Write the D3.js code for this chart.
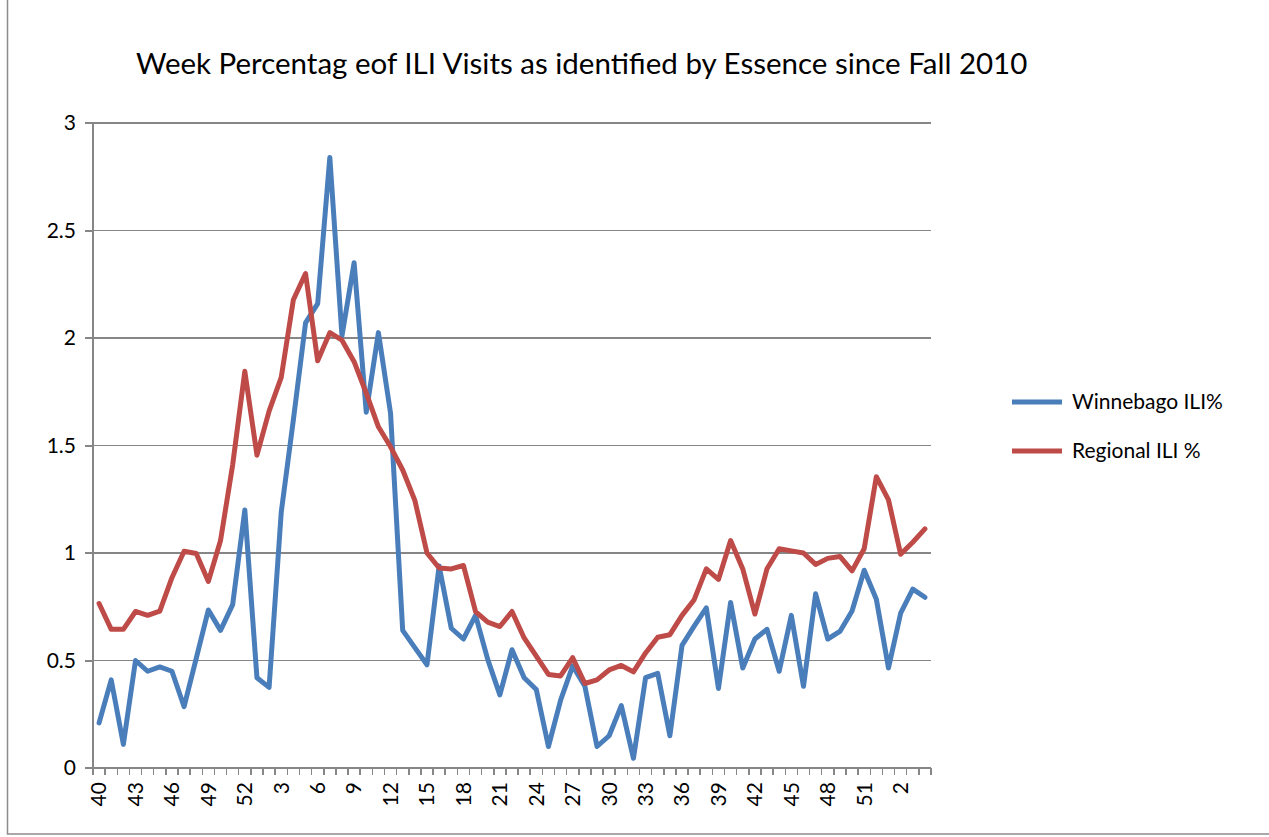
<!DOCTYPE html>
<head>
<meta charset="utf-8">
<title>ILI Visits</title>
<style>
    body { margin: 0; background: white; }
    text { font-family: Lato, "Open Sans", sans-serif; fill: #000; }
    .grid line { stroke: #868686; stroke-width: 1.5px; shape-rendering: crispEdges; }
    .axis path, .axis line { fill: none; stroke: #868686; stroke-width: 1.5px; shape-rendering: crispEdges; }
    .axis text { font-size: 21px; }
    .line { fill: none; stroke-width: 5px; stroke-linejoin: round; stroke-linecap: round; }
    .legend text { font-size: 21px; }
</style>
</head>
<body>
<svg></svg>
<script src="https://cdnjs.cloudflare.com/ajax/libs/d3/7.8.5/d3.min.js"></script>
<script>

    // week numbers, fall 2010 through early 2012
    var weeks = [40, 41, 42, 43, 44, 45, 46, 47, 48, 49, 50, 51, 52,
        1, 2, 3, 4, 5, 6, 7, 8, 9, 10, 11, 12, 13, 14, 15, 16, 17, 18, 19, 20,
        21, 22, 23, 24, 25, 26, 27, 28, 29, 30, 31, 32, 33, 34, 35, 36, 37, 38,
        39, 40, 41, 42, 43, 44, 45, 46, 47, 48, 49, 50, 51, 52,
        1, 2, 3, 4];

    var winnebago = [0.21, 0.41, 0.11, 0.50, 0.45, 0.47, 0.45, 0.285, 0.51, 0.735,
        0.64, 0.76, 1.20, 0.42, 0.375, 1.19, 1.62, 2.07, 2.16, 2.84,
        2.01, 2.35, 1.655, 2.025, 1.65, 0.64, 0.56, 0.48, 0.94, 0.65,
        0.60, 0.71, 0.505, 0.34, 0.55, 0.42, 0.365, 0.10, 0.315, 0.475,
        0.38, 0.10, 0.15, 0.29, 0.045, 0.42, 0.44, 0.15, 0.57, 0.66,
        0.745, 0.37, 0.77, 0.465, 0.60, 0.645, 0.45, 0.71, 0.38, 0.81,
        0.60, 0.635, 0.73, 0.92, 0.785, 0.465, 0.72, 0.832, 0.794];

    var regional = [0.765, 0.645, 0.645, 0.728, 0.71, 0.73, 0.885, 1.008, 0.998, 0.868,
        1.058, 1.41, 1.845, 1.455, 1.66, 1.817, 2.178, 2.30, 1.894, 2.025,
        1.99, 1.89, 1.743, 1.587, 1.494, 1.386, 1.245, 1.00, 0.93, 0.926,
        0.942, 0.727, 0.678, 0.658, 0.728, 0.605, 0.52, 0.435, 0.428, 0.513,
        0.393, 0.41, 0.456, 0.477, 0.447, 0.535, 0.608, 0.62, 0.71, 0.783,
        0.926, 0.877, 1.058, 0.926, 0.716, 0.927, 1.02, 1.01, 1.0, 0.947,
        0.975, 0.984, 0.917, 1.02, 1.355, 1.247, 0.994, 1.05, 1.112];

    var yTicks = [0, 0.5, 1, 1.5, 2, 2.5, 3];

    var seriesNames = ["Winnebago ILI%", "Regional ILI %"];
    var seriesColors = ["#4a7ebb", "#be4b48"];

    var svg = d3.select("svg")
        .attr("width", 1269)
        .attr("height", 837);

    var margin = {top: 123, right: 338, bottom: 69, left: 93},
        width = 1269 - margin.left - margin.right,
        height = 837 - margin.top - margin.bottom;

    // chart frame
    svg.append("rect")
        .attr("x", 7.5).attr("y", -2)
        .attr("width", 1300).attr("height", 836)
        .attr("fill", "none")
        .attr("stroke", "#8c8c8c")
        .attr("stroke-width", 1.5);

    svg.append("text")
        .attr("x", 136)
        .attr("y", 74)
        .style("font-size", "29.5px")
        .text("Week Percentag eof ILI Visits as identified by Essence since Fall 2010");

    var g = svg.append("g")
        .attr("transform", "translate(" + margin.left + "," + margin.top + ")");

    var x = d3.scaleBand()
        .domain(d3.range(weeks.length))
        .range([0, width]);

    var y = d3.scaleLinear()
        .domain([0, 3])
        .range([height, 0]);

    // horizontal gridlines
    g.append("g")
        .attr("class", "grid")
        .selectAll("line")
        .data(yTicks.slice(1))
        .enter().append("line")
        .attr("x1", -8)
        .attr("x2", width)
        .attr("y1", function (d) { return y(d); })
        .attr("y2", function (d) { return y(d); });

    g.append("g")
        .attr("class", "axis axis--y")
        .call(d3.axisLeft(y).tickValues(yTicks).tickSize(8).tickPadding(9)
            .tickFormat(function (d) { return d; }))
        .call(function (a) { a.select(".domain").attr("d", "M0," + height + "V0"); });

    // x axis: ticks between categories, labels every third week
    var xAxis = g.append("g")
        .attr("class", "axis axis--x")
        .attr("transform", "translate(0," + height + ")");

    xAxis.append("line")
        .attr("x1", -8).attr("x2", width)
        .attr("y1", 0).attr("y2", 0);

    xAxis.selectAll(".tick-mark")
        .data(d3.range(weeks.length + 1))
        .enter().append("line")
        .attr("class", "tick-mark")
        .attr("x1", function (i) { return i * x.step(); })
        .attr("x2", function (i) { return i * x.step(); })
        .attr("y1", 0).attr("y2", 7);

    xAxis.selectAll("text")
        .data(d3.range(0, weeks.length, 3))
        .enter().append("text")
        .attr("transform", function (i) {
            return "translate(" + (x(i) + x.bandwidth() / 2) + ",14) rotate(-90)";
        })
        .attr("dy", "0.35em")
        .attr("text-anchor", "end")
        .text(function (i) { return weeks[i]; });

    var line = d3.line()
        .x(function (d, i) { return x(i) + x.bandwidth() / 2; })
        .y(function (d) { return y(d); });

    [winnebago, regional].forEach(function (s, k) {
        g.append("path")
            .datum(s)
            .attr("class", "line")
            .attr("stroke", seriesColors[k])
            .attr("d", line);
    });

    // legend
    var legend = svg.append("g")
        .attr("class", "legend")
        .selectAll("g")
        .data(seriesNames)
        .enter().append("g")
        .attr("transform", function (d, i) { return "translate(1012," + (402 + i * 49) + ")"; });

    legend.append("line")
        .attr("x1", 0).attr("x2", 50)
        .attr("stroke", function (d, i) { return seriesColors[i]; })
        .attr("stroke-width", 5);

    legend.append("text")
        .attr("x", 60)
        .attr("dy", "0.35em")
        .text(function (d) { return d; });

</script>
</body>
